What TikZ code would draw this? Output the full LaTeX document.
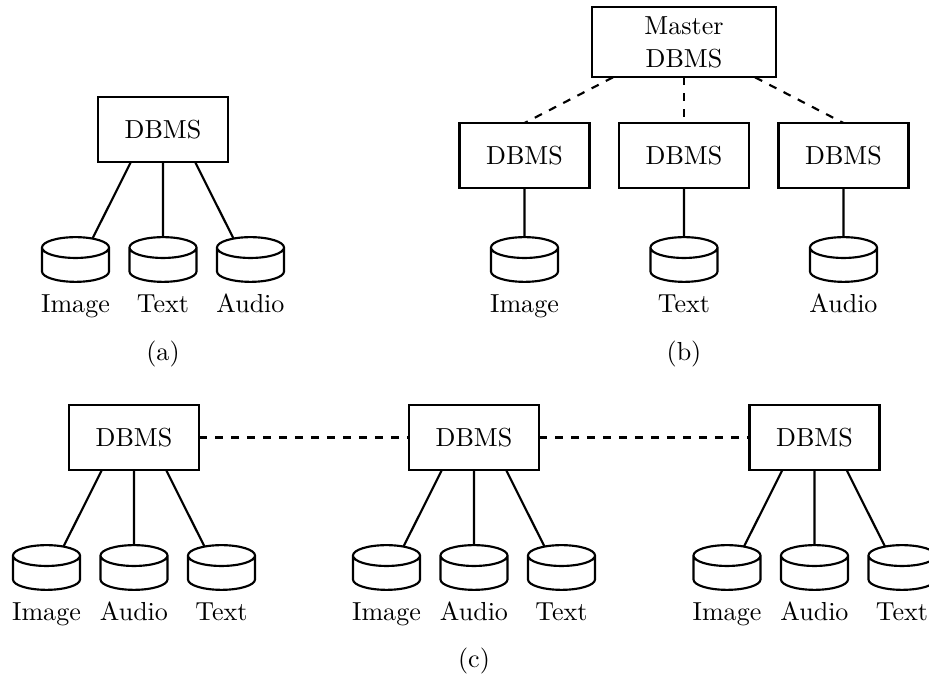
\documentclass[tikz,border=0pt,11pt]{standalone}
\usetikzlibrary{shapes.geometric}

\begin{document}
\begin{tikzpicture}[x=0.4205pt,y=-0.4205pt,line width=0.9pt,
   box/.style={draw, rectangle, inner sep=0pt, outer sep=0pt, minimum width=54.7pt, minimum height=27.3pt},
   master/.style={box, align=center, minimum width=77.6pt, minimum height=29.5pt},
   disk/.style={draw, shape=cylinder, anchor=shape center, shape border rotate=90, aspect=1.2, outer sep=0pt, minimum width=28.2pt, minimum height=18.8pt},
   caption/.style={anchor=base, inner sep=0pt},
   link/.style={dash pattern=on 3.36pt off 3.36pt}]
   \useasboundingbox (0,0) rectangle (929,679);

   \node (aDbms) at (163,129.5) [box] {DBMS};
   \node (aDisk1) at (75.5,259.5) [disk] {};
   \node (aDisk2) at (163,259.5) [disk] {};
   \node (aDisk3) at (250.5,259.5) [disk] {};
   \node (aImage) at (75.5,313) [caption] {Image};
   \node (aText) at (163,313) [caption] {Text};
   \node (aAudio) at (250.5,313) [caption] {Audio};
   \node (aCap) at (163,361) [caption] {(a)};
   \draw ([xshift=-13.5pt]aDbms.south) -- ([xshift=7.2pt,yshift=-.5pt]aDisk1.north);
   \draw (aDbms.south) -- (aDisk2.north);
   \draw ([xshift=13.5pt]aDbms.south) -- ([xshift=-7.2pt,yshift=-.5pt]aDisk3.north);

   \node (master) at (684,42.3) [master] {Master\\DBMS};
   \node (bDbms1) at (524.5,155.5) [box] {DBMS};
   \node (bDbms2) at (684,155.5) [box] {DBMS};
   \node (bDbms3) at (843.5,155.5) [box] {DBMS};
   \node (bDisk1) at (524.5,259.5) [disk] {};
   \node (bDisk2) at (684,259.5) [disk] {};
   \node (bDisk3) at (843.5,259.5) [disk] {};
   \node (bImage) at (524.5,313) [caption] {Image};
   \node (bText) at (684,313) [caption] {Text};
   \node (bAudio) at (843.5,313) [caption] {Audio};
   \node (bCap) at (684,361) [caption] {(b)};
   \draw[link] ([xshift=-29.9pt]master.south) -- (bDbms1.north);
   \draw[link] (master.south) -- (bDbms2.north);
   \draw[link] ([xshift=29.9pt]master.south) -- (bDbms3.north);
   \draw (bDbms1) -- (bDisk1.north);
   \draw (bDbms2) -- (bDisk2.north);
   \draw (bDbms3) -- (bDisk3.north);

   \node (cDbms1) at (134,437.5) [box] {DBMS};
   \node (cDisk1) at (46.5,567.5) [disk] {};
   \node (cDisk2) at (134,567.5) [disk] {};
   \node (cDisk3) at (221.5,567.5) [disk] {};
   \node (cImage1) at (46.5,621) [caption] {Image};
   \node (cAudio1) at (134,621) [caption] {Audio};
   \node (cText1) at (221.5,621) [caption] {Text};
   \draw ([xshift=-13.5pt]cDbms1.south) -- ([xshift=7.2pt,yshift=-.5pt]cDisk1.north);
   \draw (cDbms1.south) -- (cDisk2.north);
   \draw ([xshift=13.5pt]cDbms1.south) -- ([xshift=-7.2pt,yshift=-.5pt]cDisk3.north);

   \node (cDbms2) at (474,437.5) [box] {DBMS};
   \node (cDisk4) at (386.5,567.5) [disk] {};
   \node (cDisk5) at (474,567.5) [disk] {};
   \node (cDisk6) at (561.5,567.5) [disk] {};
   \node (cImage2) at (386.5,621) [caption] {Image};
   \node (cAudio2) at (474,621) [caption] {Audio};
   \node (cText2) at (561.5,621) [caption] {Text};
   \draw ([xshift=-13.5pt]cDbms2.south) -- ([xshift=7.2pt,yshift=-.5pt]cDisk4.north);
   \draw (cDbms2.south) -- (cDisk5.north);
   \draw ([xshift=13.5pt]cDbms2.south) -- ([xshift=-7.2pt,yshift=-.5pt]cDisk6.north);

   \node (cDbms3) at (814.5,437.5) [box] {DBMS};
   \node (cDisk7) at (727,567.5) [disk] {};
   \node (cDisk8) at (814.5,567.5) [disk] {};
   \node (cDisk9) at (902,567.5) [disk] {};
   \node (cImage3) at (727,621) [caption] {Image};
   \node (cAudio3) at (814.5,621) [caption] {Audio};
   \node (cText3) at (902,621) [caption] {Text};
   \draw ([xshift=-13.5pt]cDbms3.south) -- ([xshift=7.2pt,yshift=-.5pt]cDisk7.north);
   \draw (cDbms3.south) -- (cDisk8.north);
   \draw ([xshift=13.5pt]cDbms3.south) -- ([xshift=-7.2pt,yshift=-.5pt]cDisk9.north);

   \node (cCap) at (474,668) [caption] {(c)};
   \draw[link] (cDbms1) -- (cDbms2);
   \draw[link] (cDbms2) -- (cDbms3);
\end{tikzpicture}
\end{document}
